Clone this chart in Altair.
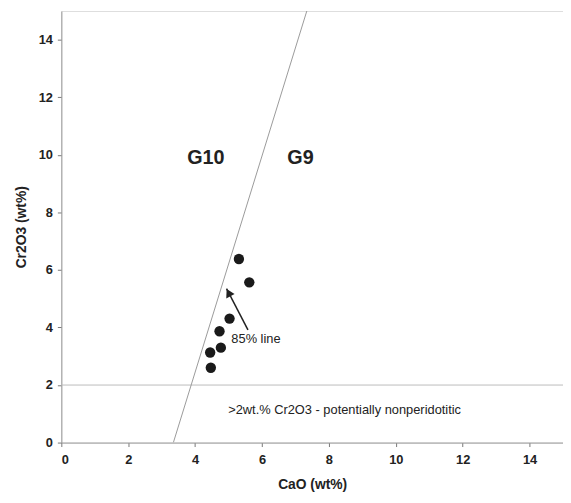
import altair as alt
import pandas as pd

# Garnet data points (CaO wt%, Cr2O3 wt%)
cao = [5.31, 5.62, 5.03, 4.73, 4.77, 4.45, 4.47]
cr2o3 = [6.38, 5.57, 4.31, 3.87, 3.30, 3.13, 2.60]

# 85% G10/G9 dividing line endpoints
line_x = [3.35, 7.34]
line_y = [0.0, 15.0]

# horizontal 2 wt% Cr2O3 threshold
threshold = [2.0]

# labels
label_text = ["G10", "G9"]
label_x = [4.32, 7.15]
label_y = [9.9, 9.9]

note_text = [">2wt.% Cr2O3 - potentially nonperidotitic"]
note_x = [8.47]
note_y = [1.12]

arrow_label = ["85% line"]
arrow_label_x = [5.82]
arrow_label_y = [3.6]
arrow_start = [5.58, 3.92]
arrow_tip = [4.94, 5.35]

ticks = [0, 2, 4, 6, 8, 10, 12, 14]

FONT = "Liberation Sans"
xs = alt.Scale(domain=[0, 15], nice=False, zero=False)
ys = alt.Scale(domain=[0, 15], nice=False, zero=False)

x_axis = alt.Axis(values=ticks, grid=False, title="CaO (wt%)", tickSize=4,
                  labelPadding=7, titlePadding=12, labelFontSize=13,
                  labelFontWeight="bold", titleFontSize=14, titleFontWeight="bold",
                  labelFont=FONT, titleFont=FONT, domainColor="#999",
                  tickColor="#777", labelColor="#222", titleColor="#222")
y_axis = alt.Axis(values=ticks, grid=False, title="Cr2O3 (wt%)", tickSize=4,
                  labelPadding=5, titlePadding=10, labelFontSize=13,
                  labelFontWeight="bold", titleFontSize=14, titleFontWeight="bold",
                  labelFont=FONT, titleFont=FONT, domainColor="#999",
                  tickColor="#777", labelColor="#222", titleColor="#222")

pts = pd.DataFrame({"CaO": cao, "Cr2O3": cr2o3})
points = alt.Chart(pts).mark_circle(size=110, color="#1a1a1a", opacity=1).encode(
    x=alt.X("CaO:Q", scale=xs, axis=x_axis),
    y=alt.Y("Cr2O3:Q", scale=ys, axis=y_axis),
)

ldf = pd.DataFrame({"x": line_x, "y": line_y})
divline = alt.Chart(ldf).mark_line(color="#999", strokeWidth=1, clip=True).encode(
    x=alt.X("x:Q", scale=xs), y=alt.Y("y:Q", scale=ys)
)

hdf = pd.DataFrame({"y": threshold})
hline = alt.Chart(hdf).mark_rule(color="#bbb", strokeWidth=1).encode(
    y=alt.Y("y:Q", scale=ys)
)

gdf = pd.DataFrame({"t": label_text, "x": label_x, "y": label_y})
glabels = alt.Chart(gdf).mark_text(fontSize=20, fontWeight="bold", font=FONT,
                                   color="#222").encode(
    x=alt.X("x:Q", scale=xs), y=alt.Y("y:Q", scale=ys), text="t:N"
)

ndf = pd.DataFrame({"t": note_text, "x": note_x, "y": note_y})
note = alt.Chart(ndf).mark_text(fontSize=13, font=FONT, color="#222").encode(
    x=alt.X("x:Q", scale=xs), y=alt.Y("y:Q", scale=ys), text="t:N"
)

adf = pd.DataFrame({"t": arrow_label, "x": arrow_label_x, "y": arrow_label_y})
alabel = alt.Chart(adf).mark_text(fontSize=13, font=FONT, color="#222").encode(
    x=alt.X("x:Q", scale=xs), y=alt.Y("y:Q", scale=ys), text="t:N"
)

arr = pd.DataFrame({"x": [arrow_start[0]], "y": [arrow_start[1]],
                    "x2": [arrow_tip[0]], "y2": [arrow_tip[1]]})
arrow_shaft = alt.Chart(arr).mark_rule(color="#222", strokeWidth=1.5).encode(
    x=alt.X("x:Q", scale=xs), y=alt.Y("y:Q", scale=ys), x2="x2:Q", y2="y2:Q"
)
tip = pd.DataFrame({"x": [arrow_tip[0]], "y": [arrow_tip[1]]})
arrow_head = alt.Chart(tip).mark_point(shape="triangle-up", filled=True, size=90,
                                       color="#222", angle=332, opacity=1,
                                       yOffset=4, xOffset=2).encode(
    x=alt.X("x:Q", scale=xs), y=alt.Y("y:Q", scale=ys)
)

chart = alt.layer(hline, divline, points, glabels, note, alabel, arrow_shaft,
                  arrow_head).properties(
    width=508, height=437,
    autosize=alt.AutoSizeParams(type="none"),
    padding={"left": 54, "top": 0, "right": 0, "bottom": 48},
).configure_view(stroke="#999", strokeWidth=1).configure(background="white")

chart.save("out.html", embed_options={"renderer": "svg", "actions": False})
